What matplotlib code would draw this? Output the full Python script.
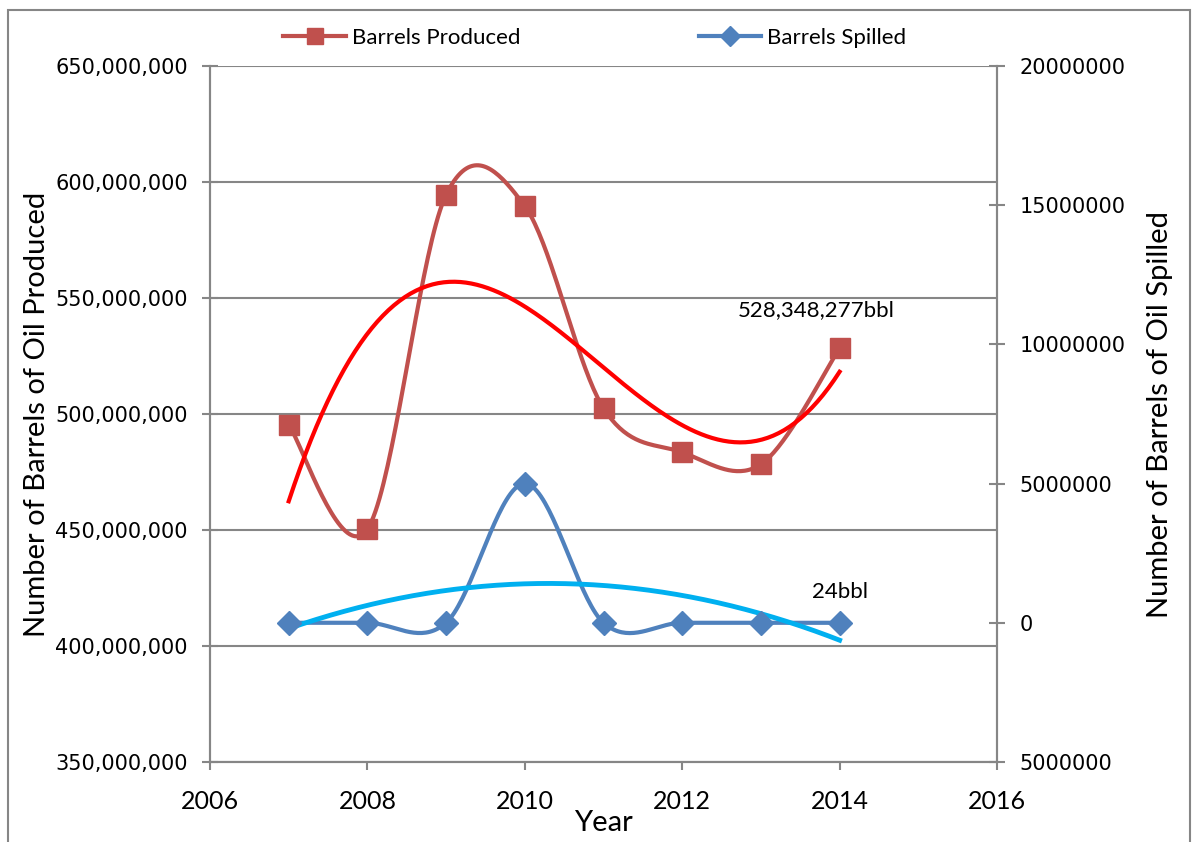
import numpy as np
import matplotlib
matplotlib.use("Agg")
import matplotlib.pyplot as plt
from matplotlib.lines import Line2D
from matplotlib.ticker import FuncFormatter

# data
years = [2007, 2008, 2009, 2010, 2011, 2012, 2013, 2014]
produced = [495300000, 450400000, 594500000, 589600000, 502500000, 483500000, 478300000, 528348277]
spilled = [2000, 1500, 3000, 5000000, 1200, 800, 600, 24]

label_produced = 'Barrels Produced'
label_spilled = 'Barrels Spilled'
ann_produced = '528,348,277bbl'
ann_spilled = '24bbl'

c_prod = '#C0504D'
c_spill = '#4F81BD'
c_trend1 = '#FF0000'
c_trend2 = '#00B0F0'
c_axis = '#868686'
narrow = ['Lato', 'DejaVu Sans']


def smooth(x, y, n=40):
    # excel-style smoothed line (catmull-rom as cubic bezier)
    x = np.asarray(x, float); y = np.asarray(y, float)
    xp = np.concatenate([[x[0]], x, [x[-1]]])
    yp = np.concatenate([[y[0]], y, [y[-1]]])
    t = np.linspace(0, 1, n)
    X = []; Y = []
    for i in range(1, len(xp) - 2):
        p0 = np.array([xp[i], yp[i]])
        p3 = np.array([xp[i+1], yp[i+1]])
        p1 = p0 + (np.array([xp[i+1], yp[i+1]]) - np.array([xp[i-1], yp[i-1]])) / 6
        p2 = p3 - (np.array([xp[i+2], yp[i+2]]) - np.array([xp[i], yp[i]])) / 6
        b = ((1-t)**3)[:, None]*p0 + (3*(1-t)**2*t)[:, None]*p1 + (3*(1-t)*t**2)[:, None]*p2 + (t**3)[:, None]*p3
        X.extend(b[:, 0]); Y.extend(b[:, 1])
    return np.array(X), np.array(Y)


fig = plt.figure(figsize=(11.92, 8.42), dpi=100)
ax = fig.add_axes([210/1192, 1-762/842, (997-210)/1192, (762-66)/842])
ax2 = ax.twinx()

# gridlines
ax.set_ylim(350e6, 650e6)
ax.set_yticks(np.arange(350e6, 650e6+1, 50e6))
ax.set_xlim(2006, 2016)
ax.set_xticks(range(2006, 2017, 2))
ax.yaxis.grid(True, color=c_axis, lw=1.5)
ax.set_axisbelow(True)

ax2.set_ylim(-5e6, 20e6)
ax2.set_yticks(np.arange(-5e6, 20e6+1, 5e6))

# produced series + poly trend
sx, sy = smooth(years, produced)
ax.plot(sx, sy, color=c_prod, lw=3, zorder=3)
ax.plot(years, produced, 's', color=c_prod, ms=14, zorder=4)
cf = np.polyfit(np.array(years) - 2010, produced, 3)
tx = np.linspace(2007, 2014, 200)
ax.plot(tx, np.polyval(cf, tx - 2010), color=c_trend1, lw=3, zorder=3)

# spilled series + poly trend
sx2, sy2 = smooth(years, spilled)
ax2.plot(sx2, sy2, color=c_spill, lw=3, zorder=3)
ax2.plot(years, spilled, 'D', color=c_spill, ms=12, zorder=4)
cf2 = np.polyfit(np.array(years) - 2010, spilled, 2)
ax2.plot(tx, np.polyval(cf2, tx - 2010), color=c_trend2, lw=3.5, zorder=3)

ax.text(2013.7, 545e6, ann_produced, ha='center', va='center', fontsize=16, family=narrow)
ax2.text(2014, 1.1e6, ann_spilled, ha='center', va='center', fontsize=16, family=narrow)

# axes styling
for a in (ax, ax2):
    for s in a.spines.values():
        s.set_color(c_axis); s.set_linewidth(1.5)
    a.spines['top'].set_visible(False)
ax.tick_params(axis='y', direction='inout', length=12, width=1.5, color=c_axis, labelsize=15, pad=10)
ax2.tick_params(axis='y', direction='inout', length=12, width=1.5, color=c_axis, labelsize=15, pad=10)
ax.tick_params(axis='x', direction='out', length=6, width=1.5, color=c_axis, pad=14)
ax.yaxis.set_major_formatter(FuncFormatter(lambda v, p: f'{v:,.0f}'))
ax2.yaxis.set_major_formatter(FuncFormatter(lambda v, p: f'{abs(v):.0f}'))
for lab in ax.get_xticklabels():
    lab.set_family(narrow); lab.set_fontsize(18)

ax.set_xlabel('Year', fontsize=21, family=narrow, labelpad=-2)
ax.set_ylabel('Number of Barrels of Oil Produced', fontsize=21, family=narrow, labelpad=4)
ax2.set_ylabel('Number of Barrels of Oil Spilled', fontsize=21, family=narrow, labelpad=16)

# legend on top
h1 = Line2D([], [], color=c_prod, lw=3, marker='s', ms=12)
h2 = Line2D([], [], color=c_spill, lw=3, marker='D', ms=10)
leg = fig.legend([h1, h2], [label_produced, label_spilled], loc='center', bbox_to_anchor=(595/1192, 1-38/842),
                 ncol=2, frameon=False, columnspacing=8, handlelength=2.8, handletextpad=0.3,
                 prop={'family': narrow, 'size': 16})

# outer chart border
fig.patches.append(plt.Rectangle((8/1192, -0.05), (1190-8)/1192, 1.05-10/842, transform=fig.transFigure,
                                 fill=False, edgecolor=c_axis, lw=1.5))

fig.savefig('out.png', dpi=100)
